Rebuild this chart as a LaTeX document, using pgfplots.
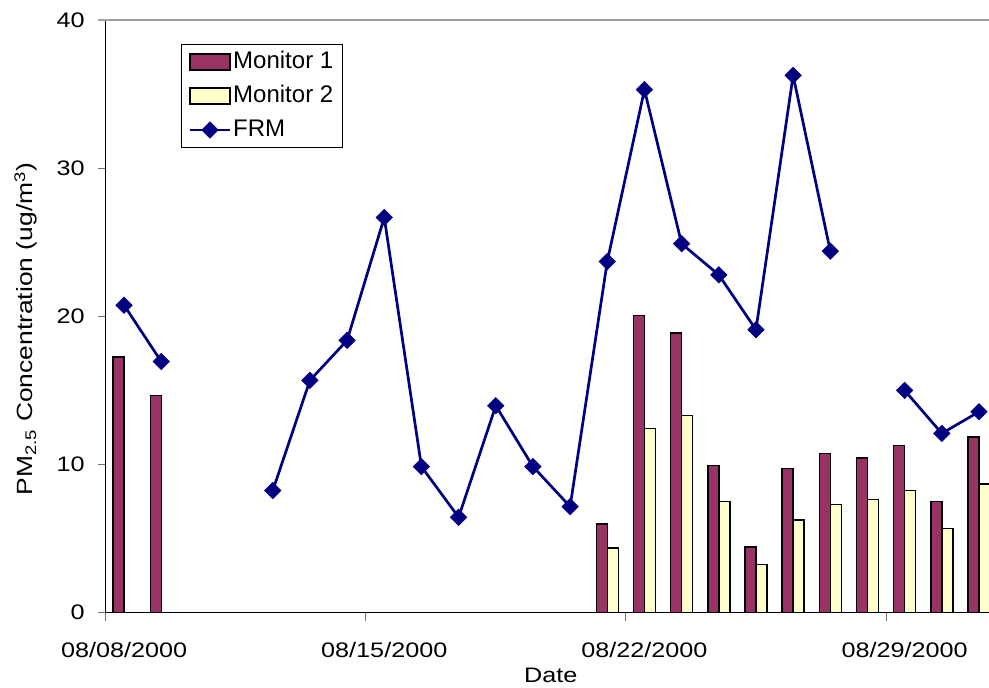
\documentclass[border=0pt]{standalone}
\usepackage{fontspec}
\setmainfont{Liberation Sans}
\newfontfamily\axfont[FakeStretch=1.2]{Liberation Sans}
\usepackage{pgfplots}
\usepackage{pgfplotstable}
\pgfplotsset{compat=1.18}
\definecolor{mone}{HTML}{993366}
\definecolor{mtwo}{HTML}{FFFFCC}
\definecolor{frm}{HTML}{000080}
\definecolor{gline}{HTML}{A0A0A0}
\definecolor{tickc}{HTML}{707070}
\pgfplotsset{
  barleg/.style={legend image code/.code={\draw[##1,/tikz/.cd,mark=none] (0pt,-3.9pt) rectangle (20pt,3.9pt);}},
  lineleg/.style={legend image code/.code={\draw[mark repeat=2,mark phase=2,##1] plot coordinates {(0pt,0pt) (10pt,0pt) (20pt,0pt)};}},
}

% x = day after 08/08/2000 + 0.5 (centre of the day slot)
\pgfplotstableread{
x y
0.5 17.25
1.5 14.65
13.5 6.0
14.5 20.07
15.5 18.87
16.5 9.95
17.5 4.42
18.5 9.72
19.5 10.75
20.5 10.45
21.5 11.28
22.5 7.52
23.5 11.87
}\tabmone
\pgfplotstableread{
x y
13.5 4.35
14.5 12.42
15.5 13.30
16.5 7.50
17.5 3.24
18.5 6.26
19.5 7.30
20.5 7.63
21.5 8.24
22.5 5.67
23.5 8.67
}\tabmtwo
\pgfplotstableread{
x y
0.5 20.75
1.5 16.95
2.5 nan
4.5 8.24
5.5 15.68
6.5 18.38
7.5 26.67
8.5 9.86
9.5 6.44
10.5 13.97
11.5 9.86
12.5 7.16
13.5 23.70
14.5 35.30
15.5 24.90
16.5 22.80
17.5 19.10
18.5 36.26
19.5 24.40
20.5 nan
21.5 15.00
22.5 12.10
23.5 13.56
}\tabfrm

\begin{document}
\begin{tikzpicture}
\useasboundingbox (0,0) rectangle (494.5pt,344pt);
\begin{axis}[
  at={(52.75pt,37.65pt)}, anchor=south west,
  scale only axis, width=441.75pt, height=296.35pt,
  xmin=0, xmax=23.77, ymin=0, ymax=40,
  axis x line*=bottom, axis y line*=left,
  axis line style={black, line width=0.5pt, -},
  xtick={0,7,14,21},
  xticklabels={08/08/2000,08/15/2000,08/22/2000,08/29/2000},
  ytick={0,10,20,30,40},
  tick align=outside, major tick length=4pt,
  tick style={tickc, line width=0.5pt},
  /pgf/number format/assume math mode=true,
  ticklabel style={font=\axfont\fontsize{10.5}{12}\selectfont},
  xticklabel style={anchor=north, inner sep=0pt, xshift=9.29pt, yshift=-10.5pt},
  yticklabel style={anchor=east, inner sep=0pt, xshift=-6.25pt},
  xlabel={Date},
  xlabel style={font=\axfont\fontsize{10.5}{12}\selectfont, at={(axis description cs:0.504,0)}, anchor=base, yshift=-35.15pt, inner sep=0pt},
  ylabel={PM\textsubscript{2.5} Concentration (ug/m\textsuperscript{3})},
  ylabel style={font=\axfont\fontsize{11}{13}\selectfont, at={(axis description cs:-0.0821,0.4787)}, anchor=base, inner sep=0pt},
  unbounded coords=jump,
  clip mode=individual,
  legend style={at={(0.0855,0.9595)}, anchor=north west, draw=black, line width=0.5pt,
    font=\fontsize{12}{14}\selectfont, inner xsep=3.5pt, inner ysep=0.25pt, row sep=0pt,
    nodes={inner xsep=1pt, inner ysep=2.75pt, text height=9pt, text depth=2.5pt}},
  legend cell align=left,
  /tikz/every even column/.append style={column sep=2pt},
]
\addplot[ybar, bar width=0.296, bar shift=-0.148, fill=mone, draw=black, line width=0.75pt, barleg]
  table[x=x,y=y] {\tabmone};
\addlegendentry{Monitor 1}
\addplot[ybar, bar width=0.296, bar shift=0.148, fill=mtwo, draw=black, line width=0.75pt, barleg]
  table[x=x,y=y] {\tabmtwo};
\addlegendentry{Monitor 2}
\addplot[frm, line width=1.35pt, mark=square*, mark size=2.9pt,
  mark options={rotate=45, solid, fill=frm, draw=frm, line width=0.3pt}, lineleg]
  table[x=x,y=y] {\tabfrm};
\addlegendentry{FRM}
\coordinate (tl) at (rel axis cs:0,1);
\coordinate (tr) at (rel axis cs:1,1);
\end{axis}
\draw[gline, line width=0.65pt] ([xshift=-4pt]tl) -- (tr);
\end{tikzpicture}
\end{document}
